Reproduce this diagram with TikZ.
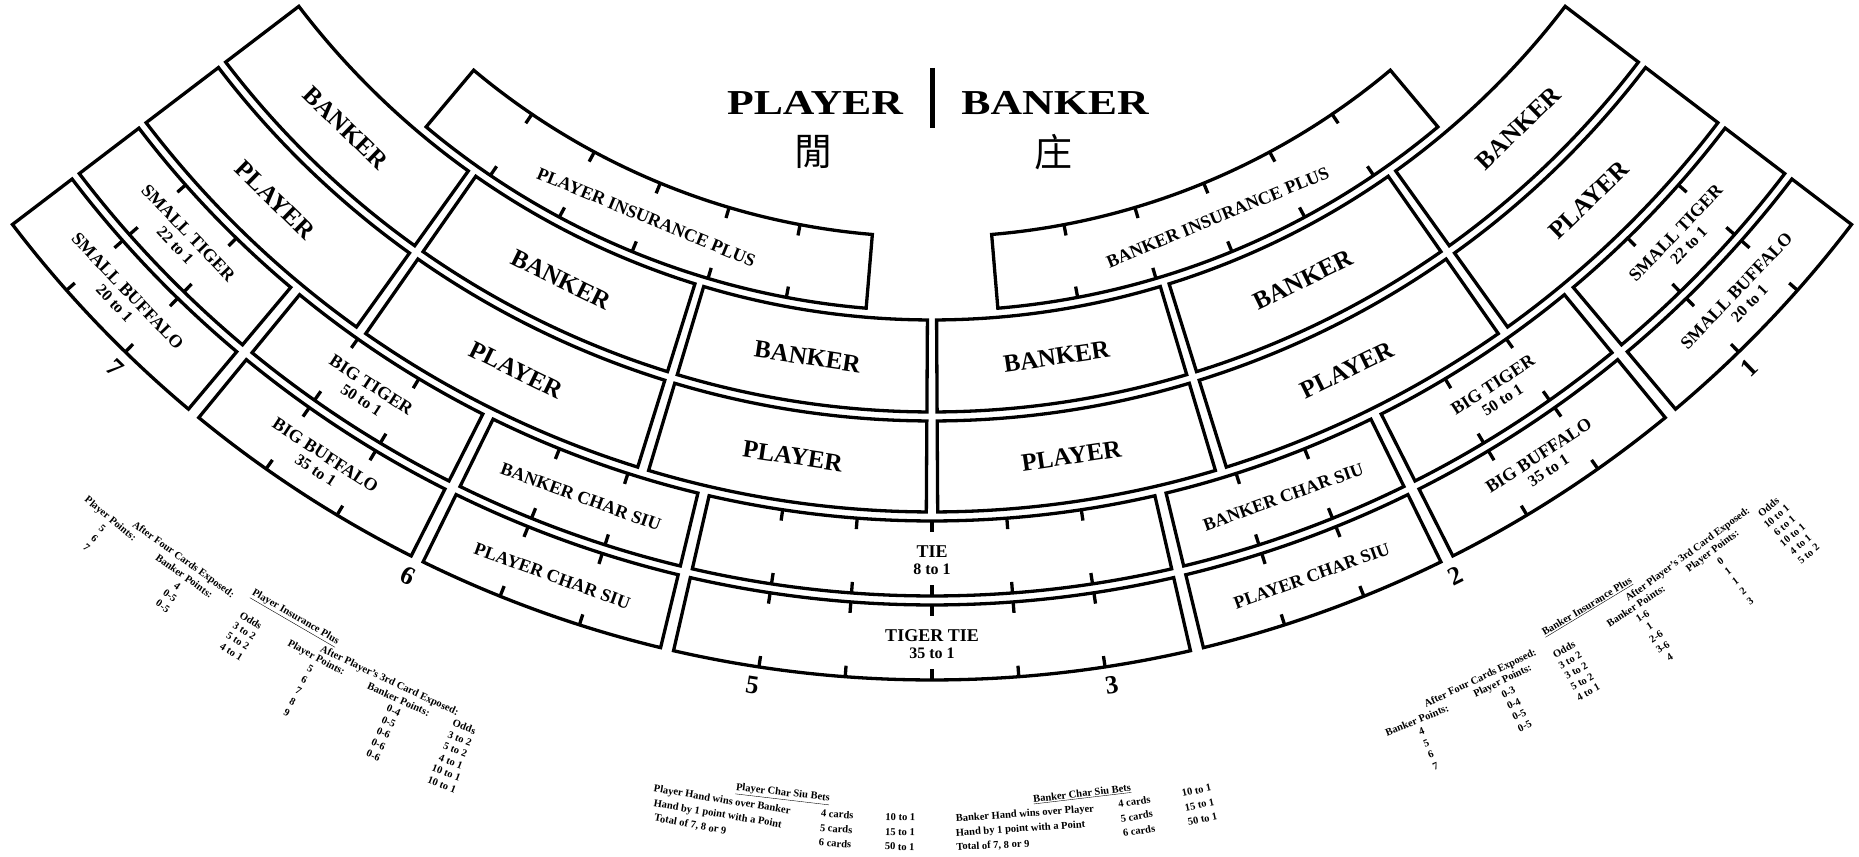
\documentclass[tikz,border=0pt]{standalone}
\usepackage{fontspec}
\setmainfont{Liberation Serif}
\newfontfamily\cjkfont{Noto Sans CJK TC}

\tikzset{
  felt/.style={line width=3.3pt},
  notch/.style={line width=3.3pt},
  bet/.style={font=\fontsize{25}{28}\selectfont\bfseries, inner sep=0pt},
  side/.style={font=\fontsize{18}{20}\selectfont\bfseries, inner sep=0pt},
  odds/.style={font=\fontsize{16}{18}\selectfont\bfseries, inner sep=0pt},
  seat/.style={font=\fontsize{26}{28}\selectfont\bfseries, inner sep=0pt},
  rules/.style={font=\fontsize{10.5}{12}\selectfont\bfseries, inner sep=0pt},
  head/.style={font=\fontsize{35}{40}\selectfont\bfseries, inner sep=0pt, xscale=1.25},
  cjk/.style={font={\cjkfont\fontsize{38}{40}\selectfont}, inner sep=0pt},
}

% box between two angles and two radii round (C)
\newcommand{\ringbox}[4]{%
  \draw[felt] ([shift={(C)}]#1:#3pt) arc[start angle=#1, end angle=#2, radius=#3pt]
    -- ([shift={(C)}]#2:#4pt) arc[start angle=#2, end angle=#1, radius=#4pt] -- cycle;}
% short marks on both arcs of a box
\newcommand{\notches}[5]{%
  \pgfmathtruncatemacro\nlast{#5-1}%
  \foreach \kk in {1,...,\nlast}{%
    \pgfmathsetmacro\tk{#1+(#2-#1)*\kk/#5}%
    \pgfmathsetmacro\ri{#3+11}%
    \pgfmathsetmacro\ro{#4-11}%
    \draw[notch] ([shift={(C)}]\tk:#3pt) -- ([shift={(C)}]\tk:\ri pt)
                 ([shift={(C)}]\tk:#4pt) -- ([shift={(C)}]\tk:\ro pt);}}
% text along the arcs
\newcommand{\ptext}[5][]{\node[#1, rotate=#3+90] (#2) at ([shift={(C)}]#3:#4pt) {#5};}
\newcommand{\payout}[4]{%
  \ptext[rules]{#4}{#1}{1290.7}{#2}%
  \foreach \val [count=\i] in {#3}{%
    \pgfmathsetmacro\rad{1290.7+12.35*\i}%
    \ptext[rules]{#4-\i}{#1}{\rad}{\val}}}

\begin{document}
\begin{tikzpicture}[x=1pt,y=1pt]
  \useasboundingbox (0,0) rectangle (1859,-856);
  \coordinate (C) at (932,476);

  % heading
  \node[head, anchor=base] (hP) at (815,-115) {PLAYER};
  \node[head, anchor=base] (hB) at (1055,-115) {BANKER};
  \coordinate (barT) at (932.5,-68);
  \coordinate (barB) at (932.5,-128);
  \draw[line width=5pt] (barT) -- (barB);
  \node[cjk] (zP) at (813,-152) {閒};
  \node[cjk] (zB) at (1053,-152) {庄};

  % tie bets
  \ringbox{-102.92}{-77.08}{997}{1072}
  \ringbox{-102.92}{-77.08}{1081}{1156}
  \notches{-102.92}{-77.08}{997}{1072}{6}
  \notches{-102.92}{-77.08}{1081}{1156}{6}
  \ptext[side]{tie}{-90}{1027.5}{TIE}
  \ptext[odds]{tie-odds}{-90}{1045.5}{8 to 1}
  \ptext[side]{tt}{-90}{1111.5}{TIGER TIE}
  \ptext[odds]{tt-odds}{-90}{1129.5}{35 to 1}

  \foreach \sg/\ins in {1/PLAYER INSURANCE PLUS,-1/BANKER INSURANCE PLUS}{
    % banker and player
    \foreach \da/\db [count=\c] in {52.7/35.63,34.97/17.33,16.67/0.33}{
      \pgfmathsetmacro\angA{-90-\sg*\da}
      \pgfmathsetmacro\angB{-90-\sg*\db}
      \pgfmathsetmacro\angM{(\angA+\angB)/2}
      \ringbox{\angA}{\angB}{796}{888}
      \ringbox{\angA}{\angB}{897}{988}
      \ptext[bet]{bk-\c-\sg}{\angM}{842}{BANKER}
      \ptext[bet]{pl-\c-\sg}{\angM}{942.5}{PLAYER}
    }
    % tiger and buffalo
    \foreach \da/\db/\nameA/\oddsA/\nameB/\oddsB [count=\c] in
      {52.7/40.03/SMALL TIGER/22 to 1/SMALL BUFFALO/20 to 1,
       39.37/26.78/BIG TIGER/50 to 1/BIG BUFFALO/35 to 1}{
      \pgfmathsetmacro\angA{-90-\sg*\da}
      \pgfmathsetmacro\angB{-90-\sg*\db}
      \pgfmathsetmacro\angM{(\angA+\angB)/2}
      \ringbox{\angA}{\angB}{997}{1072}
      \ringbox{\angA}{\angB}{1081}{1156}
      \notches{\angA}{\angB}{997}{1072}{3}
      \notches{\angA}{\angB}{1081}{1156}{3}
      \ptext[side]{tg-\c-\sg}{\angM}{1027.5}{\nameA}
      \ptext[odds]{tgo-\c-\sg}{\angM}{1045.5}{\oddsA}
      \ptext[side]{bf-\c-\sg}{\angM}{1111.5}{\nameB}
      \ptext[odds]{bfo-\c-\sg}{\angM}{1129.5}{\oddsB}
    }
    % char siu
    \pgfmathsetmacro\angA{-90-\sg*26.12}
    \pgfmathsetmacro\angB{-90-\sg*13.58}
    \pgfmathsetmacro\angM{(\angA+\angB)/2}
    \ringbox{\angA}{\angB}{997}{1072}
    \ringbox{\angA}{\angB}{1081}{1156}
    \notches{\angA}{\angB}{997}{1072}{3}
    \notches{\angA}{\angB}{1081}{1156}{3}
    \ptext[side]{bcs-\sg}{\angM}{1034.5}{BANKER CHAR SIU}
    \ptext[side]{pcs-\sg}{\angM}{1118.5}{PLAYER CHAR SIU}
    % insurance
    \pgfmathsetmacro\angA{-90-\sg*40}
    \pgfmathsetmacro\angB{-90-\sg*4.8}
    \pgfmathsetmacro\angM{(\angA+\angB)/2}
    \ringbox{\angA}{\angB}{713}{787}
    \notches{\angA}{\angB}{713}{787}{6}
    \ptext[side]{ins-\sg}{\angM}{750}{\ins}
  }

  % seats
  \foreach \d/\seatno in {44.07/7,26.46/6,8.8/5,-8.8/3,-26.46/2,-44.07/1}{
    \pgfmathsetmacro\angM{-90-\d}
    \ptext[seat]{seat\seatno}{\angM}{1175}{\seatno}}

  % player insurance plus table
  \ptext[rules]{pip}{-120.21}{1266}{\underline{Player Insurance Plus}}
  \ptext[rules]{pip-four}{-125.86}{1278.35}{After Four Cards Exposed:}
  \ptext[rules]{pip-third}{-115.12}{1278.35}{After Player's 3rd Card Exposed:}
  \payout{-129.55}{Player Points:}{5,6,7}{pipA}
  \payout{-125.4}{Banker Points:}{4,0-5,0-5}{pipB}
  \payout{-121.85}{Odds}{3 to 2,5 to 2,4 to 1}{pipC}
  \payout{-118.5}{Player Points:}{5,6,7,8,9}{pipD}
  \payout{-114.4}{Banker Points:}{0-4,0-5,0-6,0-6,0-6}{pipE}
  \payout{-111.25}{Odds}{3 to 2,5 to 2,4 to 1,10 to 1,10 to 1}{pipF}

  % banker insurance plus table
  \ptext[rules]{bip}{-58.83}{1266}{\underline{Banker Insurance Plus}}
  \ptext[rules]{bip-four}{-64.59}{1278.35}{After Four Cards Exposed:}
  \ptext[rules]{bip-third}{-53.75}{1278.35}{After Player's 3rd Card Exposed:}
  \payout{-67.93}{Banker Points:}{4,5,6,7}{bipA}
  \payout{-63.75}{Player Points:}{0-3,0-4,0-5,0-5}{bipB}
  \payout{-60.68}{Odds}{3 to 2,3 to 2,5 to 2,4 to 1}{bipC}
  \payout{-56.95}{Banker Points:}{1-6,1,2-6,3-6,4}{bipD}
  \payout{-52.77}{Player Points:}{0,1,1,2,3}{bipE}
  \payout{-49.6}{Odds}{10 to 1,6 to 1,10 to 1,4 to 1,5 to 2}{bipF}

  % char siu tables
  \ptext[rules]{pcsb}{-96.7}{1279}{\underline{Player Char Siu Bets}}
  \ptext[rules]{bcsb}{-83.26}{1279}{\underline{Banker Char Siu Bets}}
  \foreach \la/\lb/\txt/\tb [count=\i] in
    {-99.34/-85.88/Player Hand wins over Banker/Banker Hand wins over Player,
     -99.43/-86.12/Hand by 1 point with a Point/Hand by 1 point with a Point,
     -100.53/-87.36/{Total of 7, 8 or 9}/{Total of 7, 8 or 9}}{
    \pgfmathsetmacro\rad{1279+14.7*\i}
    \ptext[rules]{pcsl-\i}{\la}{\rad}{\txt}
    \ptext[rules]{bcsl-\i}{\lb}{\rad}{\tb}}
  \foreach \cards/\pay [count=\i] in {4 cards/10 to 1,5 cards/15 to 1,6 cards/50 to 1}{
    \pgfmathsetmacro\rad{1279+14.7*\i}
    \ptext[rules]{pcsc-\i}{-94.2}{\rad}{\cards}
    \ptext[rules]{pcso-\i}{-91.4}{\rad}{\pay}
    \ptext[rules]{bcsc-\i}{-81.0}{\rad}{\cards}
    \ptext[rules]{bcso-\i}{-78.2}{\rad}{\pay}}
\end{tikzpicture}
\end{document}
